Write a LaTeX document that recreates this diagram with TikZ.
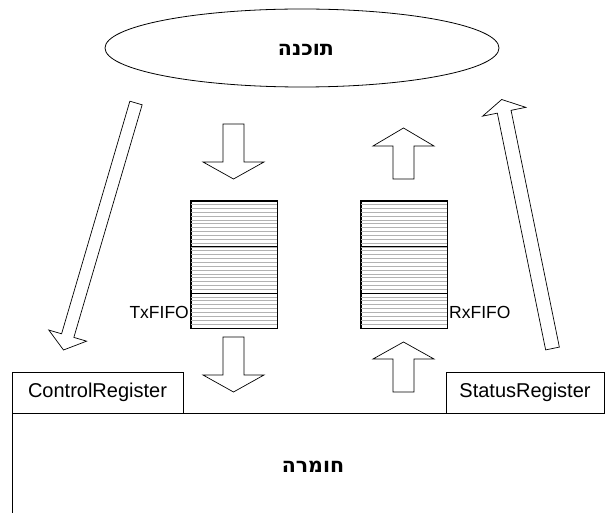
\documentclass[tikz,border=0pt]{standalone}
\usepackage{fontspec}
\setmainfont{Liberation Sans}
\newfontfamily\hebfont[Script=Hebrew]{DejaVu Sans}
\TeXXeTstate=1
\usetikzlibrary{calc,shapes.geometric}
\newcommand\blockarr[5]{%
  \coordinate (ba-h) at ($(#2)!#5!(#1)$);
  \draw[arrowbox] ($(#1)!#3!-90:(#2)$) -- ($(ba-h)!#3!90:(#1)$) -- ($(ba-h)!#4!90:(#1)$) -- (#2)
    -- ($(ba-h)!#4!-90:(#1)$) -- ($(ba-h)!#3!-90:(#1)$) -- ($(#1)!#3!90:(#2)$) -- cycle;
}
\tikzset{
  arrowbox/.style={draw=black, fill=white, line width=0.7pt, line join=miter},
  regbox/.style={draw=black, line width=0.8pt, inner sep=0pt, font=\fontsize{20}{22}\selectfont},
  lbl/.style={inner sep=0pt, font=\fontsize{17.5}{20}\selectfont},
  heb/.style={inner sep=0pt, font=\hebfont\bfseries\fontsize{20.5}{23}\selectfont},
  fifobox/.style={draw=black, line width=0.8pt, minimum width=86pt, minimum height=127pt, inner sep=0pt},
}
\begin{document}
\begin{tikzpicture}[x=1pt,y=-1pt]
\useasboundingbox (0,0) rectangle (605,513);
\clip (0,0) rectangle (605,513);
% software ellipse
\node[ellipse, draw, line width=0.8pt, minimum width=394pt, minimum height=78pt, inner sep=0pt] (sw) at (302,48) {};
\node[heb] (swt) at (306,50) {\beginR תוכנה\endR};
% FIFOs
\node[fifobox] (tx) at (234,264.5) {};
\node[fifobox] (rx) at (404,264.5) {};
\foreach \f in {tx,rx}{
  \foreach \k in {1,...,32}{
    \draw[gray!60, line width=0.4pt] ($(\f.north west)+(0,\k*3.848)$) -- ($(\f.north east)+(0,\k*3.848)$);
  }
  \draw[black, line width=0.8pt] ($(\f.north west)+(0,12*3.848)$) -- ($(\f.north east)+(0,12*3.848)$);
  \draw[black, line width=0.8pt] ($(\f.north west)+(0,24*3.848)$) -- ($(\f.north east)+(0,24*3.848)$);
  \draw[line width=0.8pt] (\f.north west) rectangle (\f.south east);
}
\node[lbl, anchor=east] (txl) at (189,312) {TxFIFO};
\node[lbl, anchor=west] (rxl) at (449,312) {RxFIFO};
% registers and hardware
\draw[line width=0.8pt] (12,413) rectangle (640,560);
\node[regbox, minimum width=171pt, minimum height=41pt] (ctrl) at (97.5,392.5) {ControlRegister};
\node[regbox, minimum width=158pt, minimum height=41pt] (stat) at (525,392.5) {StatusRegister};
\node[heb] (hw) at (313,467) {\beginR חומרה\endR};
% block arrows
\coordinate (a1s) at (233.5,124); \coordinate (a1e) at (233.5,179);
\coordinate (a2s) at (403.5,179); \coordinate (a2e) at (403.5,128);
\coordinate (a3s) at (233.5,337); \coordinate (a3e) at (233.5,392);
\coordinate (a4s) at (403.5,392); \coordinate (a4e) at (403.5,342);
\coordinate (l1s) at (136,103); \coordinate (l1e) at (63.5,350);
\coordinate (r1s) at (552.5,348.5); \coordinate (r1e) at (501.7,99.5);
\blockarr{a1s}{a1e}{10.5pt}{30.5pt}{17pt}
\blockarr{a2s}{a2e}{10.5pt}{30.5pt}{18pt}
\blockarr{a3s}{a3e}{10.5pt}{30.5pt}{17pt}
\blockarr{a4s}{a4e}{10.5pt}{30.5pt}{17pt}
\blockarr{l1s}{l1e}{6.4pt}{19.7pt}{15pt}
\blockarr{r1s}{r1e}{7pt}{22pt}{12.5pt}
\end{tikzpicture}
\end{document}
